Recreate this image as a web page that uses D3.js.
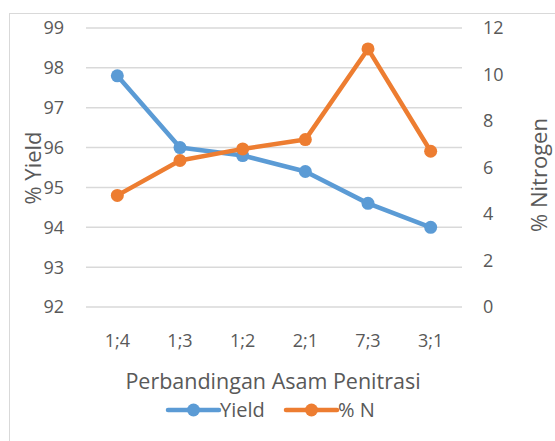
<!DOCTYPE html>
<html><head><meta charset="utf-8">
<script src="https://cdn.jsdelivr.net/npm/d3@7"></script>
<style>body{margin:0;background:#fff}svg{display:block}text{font-family:"Open Sans",sans-serif;fill:#595959}</style>
</head><body>
<svg id="c" width="555" height="441"></svg>
<script>
const categories = ["1;4","1;3","1;2","2;1","7;3","3;1"];
const yieldValues = [97.8, 96.0, 95.8, 95.4, 94.6, 94.0];
const nitrogenValues = [4.8, 6.3, 6.8, 7.2, 11.1, 6.7];
const leftTicks = [92,93,94,95,96,97,98,99];
const rightTicks = [0,2,4,6,8,10,12];
const blue = "#5b9bd5", orange = "#ed7d31";

const svg = d3.select("#c");
svg.append("rect").attr("x",9.5).attr("y",13.5).attr("width",560).attr("height",440)
  .attr("fill","none").attr("stroke","#d9d9d9").attr("stroke-width",1);

const L = 86, R = 462, T = 28, B = 307;
const x = d3.scaleBand().domain(categories).range([L,R]);
const yL = d3.scaleLinear().domain([92,99]).range([B,T]);
const yR = d3.scaleLinear().domain([0,12]).range([B,T]);
const cx = d => x(d) + x.bandwidth()/2;

svg.append("g").selectAll("line").data(leftTicks).join("line")
  .attr("x1",L).attr("x2",R).attr("y1",d=>yL(d)).attr("y2",d=>yL(d))
  .attr("stroke","#d9d9d9").attr("stroke-width",1.5);

svg.append("g").selectAll("text").data(leftTicks).join("text")
  .attr("x",64).attr("y",d=>yL(d)).attr("dy","0.36em").attr("text-anchor","end")
  .attr("font-size",18).text(d=>d);
svg.append("g").selectAll("text").data(rightTicks).join("text")
  .attr("x",483).attr("y",d=>yR(d)).attr("dy","0.36em").attr("text-anchor","start")
  .attr("font-size",18).text(d=>d);
svg.append("g").selectAll("text").data(categories).join("text")
  .attr("x",d=>cx(d)).attr("y",341).attr("dy","0.36em").attr("text-anchor","middle")
  .attr("font-size",18).text(d=>d);

svg.append("text").attr("transform","translate(33,168) rotate(-90)").attr("text-anchor","middle")
  .attr("dy","0.36em").attr("font-size",22).text("% Yield");
svg.append("text").attr("transform","translate(539,175) rotate(-90)").attr("text-anchor","middle")
  .attr("dy","0.36em").attr("font-size",22).text("% Nitrogen");
svg.append("text").attr("x",273).attr("y",381).attr("dy","0.36em").attr("text-anchor","middle")
  .attr("font-size",21.5).text("Perbandingan Asam Penitrasi");

function series(vals, scale, color){
  const pts = categories.map((c,i)=>[cx(c), scale(vals[i])]);
  svg.append("path").attr("d", d3.line()(pts)).attr("fill","none").attr("stroke",color)
    .attr("stroke-width",4.5).attr("stroke-linejoin","round").attr("stroke-linecap","round");
  svg.append("g").selectAll("circle").data(pts).join("circle")
    .attr("cx",d=>d[0]).attr("cy",d=>d[1]).attr("r",6.5).attr("fill",color);
}
series(yieldValues, yL, blue);
series(nitrogenValues, yR, orange);

const legend = [{name:"Yield",color:blue,x:168},{name:"% N",color:orange,x:286}];
legend.forEach(l=>{
  svg.append("line").attr("x1",l.x).attr("x2",l.x+51).attr("y1",410).attr("y2",410)
    .attr("stroke",l.color).attr("stroke-width",4.5).attr("stroke-linecap","round");
  svg.append("circle").attr("cx",l.x+25.5).attr("cy",410).attr("r",6.5).attr("fill",l.color);
  svg.append("text").attr("x",l.x+52).attr("y",410).attr("dy","0.36em").attr("font-size",20).text(l.name);
});
</script>
</body></html>
